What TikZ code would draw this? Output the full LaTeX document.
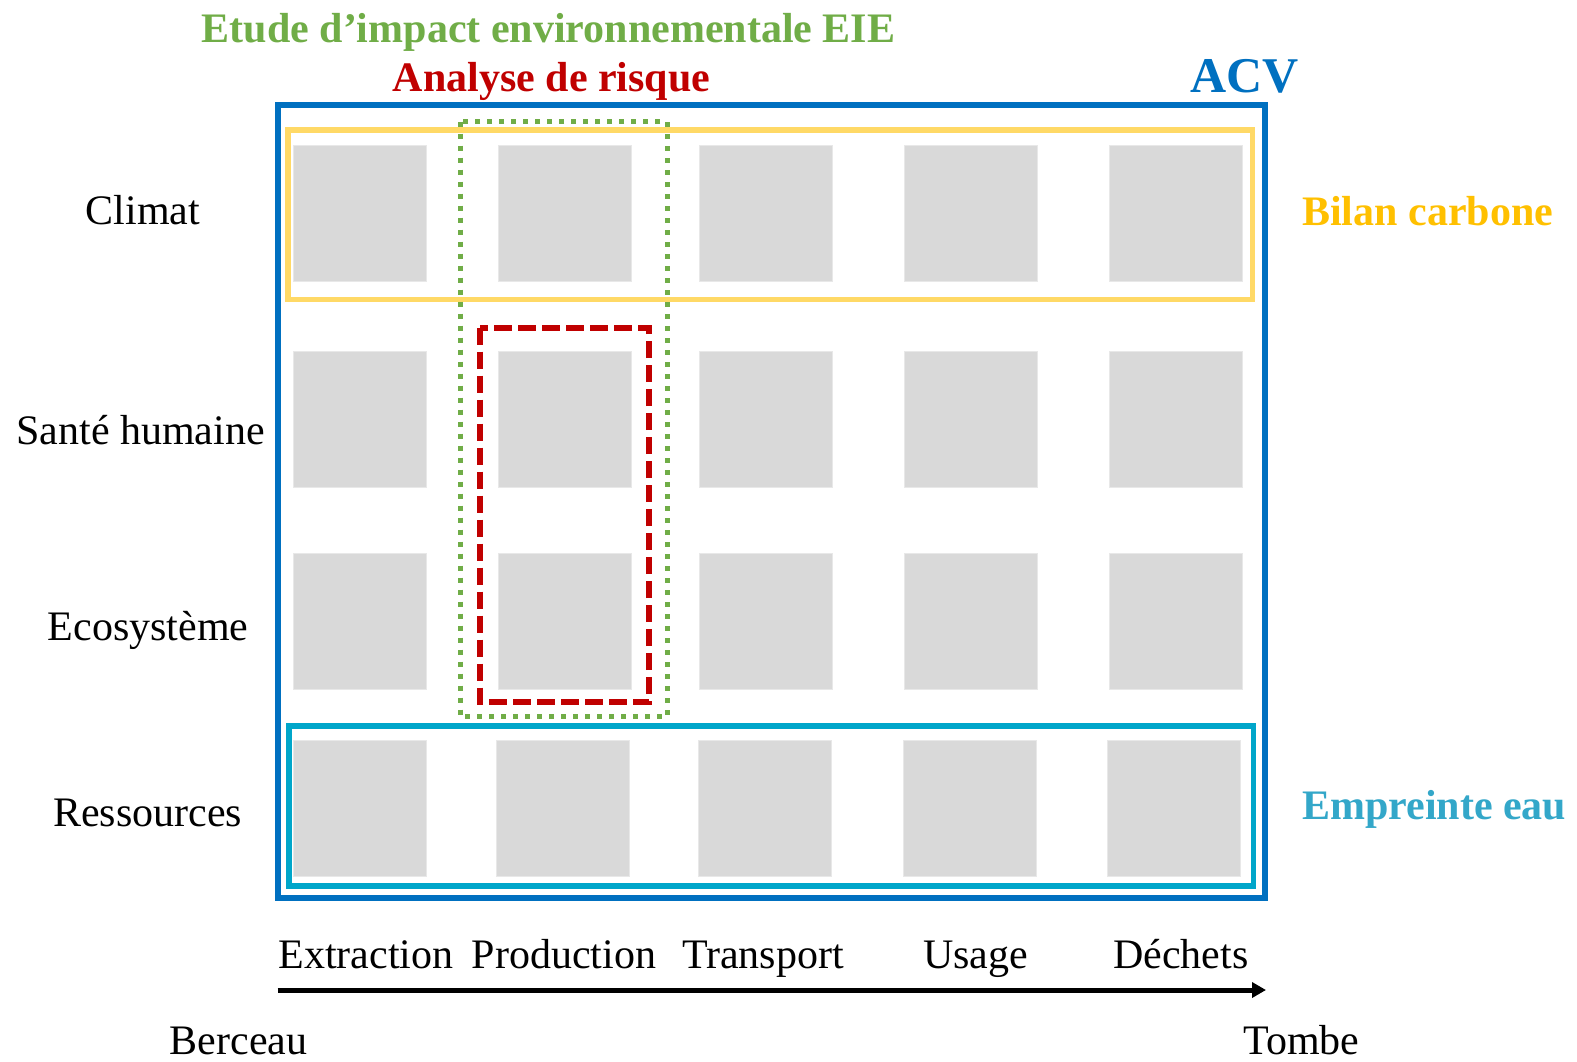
\documentclass[tikz,border=0pt]{standalone}
\usepackage{fontspec}
\setmainfont{Liberation Serif}
\usetikzlibrary{arrows.meta}
\definecolor{acvblue}{HTML}{0070C0}
\definecolor{yellowline}{HTML}{FFD966}
\definecolor{yellowtext}{HTML}{FFC000}
\definecolor{cyanline}{HTML}{00A6CA}
\definecolor{cyantext}{HTML}{33A7C9}
\definecolor{eiegreen}{HTML}{70AD47}
\definecolor{riskred}{HTML}{C00000}
\definecolor{cellgray}{HTML}{D9D9D9}
\definecolor{celledge}{HTML}{E8E8E8}
\begin{document}
\begin{tikzpicture}[x=1pt,y=-1pt,
  cell/.style={draw=celledge, fill=cellgray, line width=1pt, minimum width=133pt,
    minimum height=136pt, inner sep=0pt, anchor=north west},
  lbl/.style={font=\fontsize{42}{50}\selectfont, inner sep=0pt, anchor=base},
  blbl/.style={font=\fontsize{42}{50}\selectfont\bfseries, inner sep=0pt, anchor=base},
  frame/.style={line width=5.5pt},
  eieframe/.style={draw=eiegreen, line width=5pt, dash pattern=on 5pt off 7pt},
  riskframe/.style={draw=riskred, line width=6pt, dash pattern=on 17.5pt off 6.5pt},
]
\useasboundingbox (0,0) rectangle (1577,1061);
\fill[white] (0,0) rectangle (1577,1061);

% cells
\foreach \r/\y in {1/144.5, 2/351, 3/553}
  \foreach \c/\x in {1/293, 2/497.5, 3/699, 4/904, 5/1109}
    \node[cell] (c\r\c) at (\x,\y) {};
\foreach \c/\x in {1/292.5, 2/495.5, 3/697.5, 4/902.5, 5/1107}
  \node[cell] (c4\c) at (\x,740) {};

% frames
\draw[frame, draw=yellowline] (288,130) rectangle (1252.6,299.5);
\draw[frame, draw=cyanline] (289,726) rectangle (1253.6,886);
\draw[eieframe] (460,121.7) rectangle (667,716.7);
\draw[riskframe] (480,327.7) rectangle (649.3,702.3);
\draw[frame, draw=acvblue] (278,105) rectangle (1265,898);

% titles
\node[blbl, text=eiegreen] (eie) at (548.5,42) {Etude d’impact environnementale EIE};
\node[blbl, text=riskred] (risk) at (551.5,91.5) {Analyse de risque};
\node[font=\fontsize{50}{60}\selectfont\bfseries, inner sep=0pt, anchor=base, text=acvblue] (acv) at (1244.7,92.3) {ACV};
\node[blbl, text=yellowtext, anchor=base west] (bilan) at (1302,225.7) {Bilan carbone};
\node[blbl, text=cyantext, anchor=base west] (eau) at (1302,819) {Empreinte eau};

% row labels
\node[lbl] (climat) at (143,224.3) {Climat};
\node[lbl] (sante) at (140.7,444.3) {Santé humaine};
\node[lbl] (eco) at (148.3,640) {Ecosystème};
\node[lbl] (res) at (147.8,826.7) {Ressources};

% stage labels
\node[lbl] (extr) at (366,968) {Extraction};
\node[lbl] (prod) at (564,968) {Production};
\node[lbl] (trans) at (763,968) {Transport};
\node[lbl] (usage) at (975.5,968) {Usage};
\node[lbl] (dech) at (1181,968) {Déchets};

% arrow
\coordinate (arrS) at (277.5,990);
\coordinate (arrE) at (1266,990);
\draw[line width=5pt, -{Triangle[length=14pt,width=15pt]}] (arrS) -- (arrE);

\node[lbl] (berceau) at (238.5,1054.5) {Berceau};
\node[lbl] (tombe) at (1301.5,1054.5) {Tombe};
\end{tikzpicture}
\end{document}
